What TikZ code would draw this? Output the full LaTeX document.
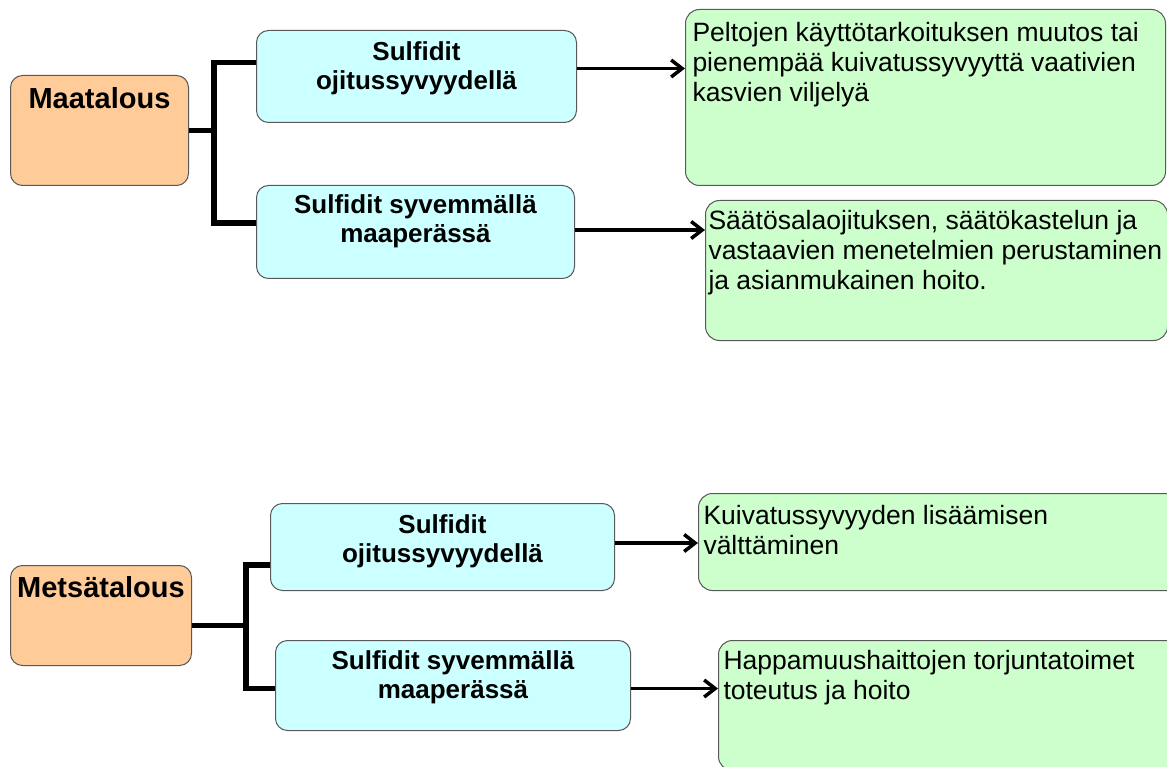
\documentclass[tikz,border=0pt]{standalone}
\usepackage{fontspec}
\setmainfont{Liberation Sans}
\usetikzlibrary{arrows.meta}

\definecolor{peach}{HTML}{FFCC99}
\definecolor{paleblue}{HTML}{CCFFFF}
\definecolor{palegreen}{HTML}{CCFFCC}

\tikzset{
	sectorbox/.style={draw=black!65, line width=1pt, fill=peach, rounded corners=12pt, anchor=north west, inner xsep=0pt, font=\bfseries\fontsize{29}{33}\selectfont},
	soilbox/.style={draw=black!65, line width=1pt, fill=paleblue, rounded corners=12pt, anchor=north west, inner xsep=0pt, font=\bfseries\fontsize{26}{29}\selectfont},
	actionbox/.style={draw=black!65, line width=1pt, fill=palegreen, rounded corners=14pt, anchor=north west, font=\fontsize{26.5}{30}\selectfont},
	branch/.style={line width=5.5pt},
	link/.style={line width=3.5pt, -{Straight Barb[length=11pt,width=17pt]}},
}

\begin{document}
\begin{tikzpicture}[x=1pt,y=-1pt]
			\useasboundingbox (0,0) rectangle (1167,767);
			\fill[white] (0,0) rectangle (1167,767);
			
			% Maatalous
			\node[sectorbox, inner ysep=12pt] (maa) at (10,75) {\parbox[c][86pt][t]{178pt}{\centering Maatalous}};
			\node[soilbox, inner ysep=11pt] (s1) at (256,30) {\parbox[c][70pt][t]{320pt}{\centering Sulfidit\\ ojitussyvyydellä}};
			\node[soilbox, inner ysep=9pt] (s2) at (256,185) {\parbox[c][75pt][t]{318pt}{\centering Sulfidit syvemmällä\\ maaperässä}};
			\node[actionbox, inner xsep=7pt, inner ysep=13pt] (g1) at (685,9) {\parbox[c][150pt][t]{466pt}{\raggedright Peltojen käyttötarkoituksen muutos tai\\ pienempää kuivatussyvyyttä vaativien\\ kasvien viljelyä}};
			\node[actionbox, inner xsep=3pt, inner ysep=10pt] (g2) at (705,200) {\parbox[c][120pt][t]{456pt}{\raggedright Säätösalaojituksen, säätökastelun ja\\ vastaavien menetelmien perustaminen\\ ja asianmukainen hoito.}};
			
			\draw[branch] (maa.east) -- ++(25,0) coordinate (maaj);
			\draw[branch] ([yshift=14pt]s1.west) -| (maaj) |- ([yshift=9pt]s2.west);
			
			\coordinate (a1) at ([yshift=8pt]s1.east);
			\coordinate (a2) at ([yshift=2pt]s2.east);
			\draw[link] (a1) -- (a1 -| g1.west);
			\draw[link] (a2) -- (a2 -| g2.west);
			
			% Metsatalous
			\node[sectorbox, inner ysep=11pt] (met) at (10,565) {\parbox[c][78pt][t]{181pt}{\centering Metsätalous}};
			\node[soilbox, inner ysep=11pt] (s3) at (270,503) {\parbox[c][65pt][t]{344pt}{\centering Sulfidit\\ ojitussyvyydellä}};
			\node[soilbox, inner ysep=10pt] (s4) at (275,640) {\parbox[c][70pt][t]{355pt}{\centering Sulfidit syvemmällä\\ maaperässä}};
			\node[actionbox, inner xsep=5pt, inner ysep=12pt] (g3) at (698,493) {\parbox[c][73pt][t]{475pt}{\raggedright Kuivatussyvyyden lisäämisen\\ välttäminen}};
			\node[actionbox, inner xsep=5pt, inner ysep=10pt] (g4) at (718,640) {\parbox[c][110pt][t]{455pt}{\raggedright Happamuushaittojen torjuntatoimet\\ toteutus ja hoito}};
			
			\draw[branch] ([yshift=-10pt]met.east) -- ++(54,0) coordinate (metj);
			\draw[branch] ([yshift=-18pt]s3.west) -| (metj) |- ([yshift=-3pt]s4.west);
			
			\coordinate (a3) at ([yshift=4pt]s3.east);
			\coordinate (a4) at ([yshift=-3pt]s4.east);
			\draw[link] (a3) -- (a3 -| g3.west);
			\draw[link] (a4) -- (a4 -| g4.west);
			
\end{tikzpicture}
\end{document}
